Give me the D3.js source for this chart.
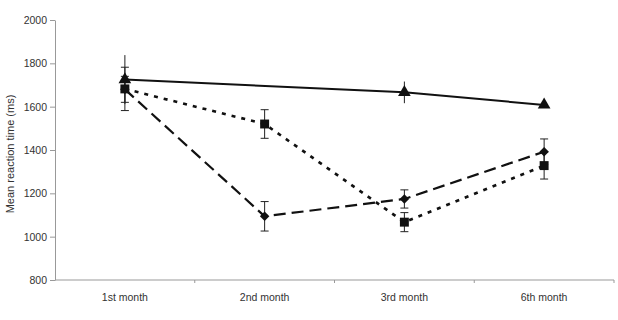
<!DOCTYPE html>
<html>
<head>
<meta charset="utf-8">
<script src="https://cdn.jsdelivr.net/npm/d3@7"></script>
<style>
  body { margin: 0; background: #fff; }
  svg text { font-family: "Liberation Sans", Arial, sans-serif; fill: #333; }
  .axis path, .axis line { stroke: #999; }
</style>
</head>
<body>
<svg id="chart" width="618" height="320"></svg>
<script>
// Months on the x axis
const months = ['1st month', '2nd month', '3rd month', '6th month'];
const yTicks = [800, 1000, 1200, 1400, 1600, 1800, 2000];

// Series values (mean reaction time, ms) and error half-widths; null = no point
const triangleMeans = [1725, null, 1666, 1608];
const triangleErrors = [113, null, 50, 6];
const squareMeans = [1682, 1520, 1067, 1328];
const squareErrors = [100, 66, 44, 62];
const diamondMeans = [1680, 1094, 1174, 1392];
const diamondErrors = [60, 68, 42, 59];

const series = [
  { name: 'diamond', means: diamondMeans, errors: diamondErrors, dash: '12,6', width: 2.2, caps: true },
  { name: 'square', means: squareMeans, errors: squareErrors, dash: '4,6', width: 2.6, caps: true },
  { name: 'triangle', means: triangleMeans, errors: triangleErrors, dash: null, width: 2, caps: false }
];

const svg = d3.select('#chart');
const margin = { top: 20, right: 4, bottom: 40, left: 55 };
const width = 618, height = 320;

const x = d3.scaleBand().domain(months).range([margin.left, width - margin.right]);
const y = d3.scaleLinear().domain([800, 2000]).range([height - margin.bottom, margin.top]);
const cx = d => x(d) + x.bandwidth() / 2;

// Y axis
svg.append('g')
  .attr('class', 'axis')
  .attr('transform', `translate(${margin.left},0)`)
  .call(d3.axisLeft(y).tickValues(yTicks).tickFormat(d3.format('d')).tickSize(5).tickPadding(3).tickSizeOuter(0))
  .call(g => g.selectAll('text').style('font-size', '10.5px').attr('fill', '#333'));

// X axis: line and category boundary ticks
const xAxis = svg.append('g').attr('class', 'axis');
xAxis.append('line')
  .attr('x1', margin.left).attr('x2', width - margin.right)
  .attr('y1', y(800)).attr('y2', y(800))
  .attr('stroke', '#999');
xAxis.selectAll('.xt')
  .data(months)
  .join('line')
  .attr('x1', d => x(d) + x.bandwidth()).attr('x2', d => x(d) + x.bandwidth())
  .attr('y1', y(800)).attr('y2', y(800) + 3)
  .attr('stroke', '#999');
xAxis.selectAll('.xl')
  .data(months)
  .join('text')
  .attr('x', cx)
  .attr('y', y(800) + 21)
  .attr('text-anchor', 'middle')
  .style('font-size', '10.5px')
  .text(d => d);

// Y axis title
svg.append('text')
  .attr('transform', `translate(14,${(y(800) + y(2000)) / 2 + 4}) rotate(-90)`)
  .attr('text-anchor', 'middle')
  .style('font-size', '11px')
  .text('Mean reaction time (ms)');

const pointsOf = s => months.map((m, i) => ({ m, v: s.means[i], e: s.errors[i] })).filter(p => p.v != null);

// Error bars
series.forEach(s => {
  const g = svg.append('g');
  pointsOf(s).forEach(p => {
    g.append('line')
      .attr('x1', cx(p.m)).attr('x2', cx(p.m))
      .attr('y1', y(p.v - p.e)).attr('y2', y(p.v + p.e))
      .attr('stroke', '#222').attr('stroke-width', 1);
    if (s.caps) {
      [p.v - p.e, p.v + p.e].forEach(v => {
        g.append('line')
          .attr('x1', cx(p.m) - 4).attr('x2', cx(p.m) + 4)
          .attr('y1', y(v)).attr('y2', y(v))
          .attr('stroke', '#222').attr('stroke-width', 1);
      });
    }
  });
});

// Lines
const line = d3.line().x(p => cx(p.m)).y(p => y(p.v));
series.forEach(s => {
  svg.append('path')
    .datum(pointsOf(s))
    .attr('d', line)
    .attr('fill', 'none')
    .attr('stroke', '#111')
    .attr('stroke-width', s.width)
    .attr('stroke-dasharray', s.dash);
});

// Markers (diamond = square turned 45 degrees)
const symbolFor = { diamond: d3.symbolSquare, square: d3.symbolSquare, triangle: d3.symbolTriangle };
const sizeFor = { diamond: 45, square: 80, triangle: 70 };
series.forEach(s => {
  svg.append('g').selectAll('path')
    .data(pointsOf(s))
    .join('path')
    .attr('transform', p => `translate(${cx(p.m)},${y(p.v)})` + (s.name === 'diamond' ? ' rotate(45)' : ''))
    .attr('d', d3.symbol().type(symbolFor[s.name]).size(sizeFor[s.name]))
    .attr('fill', '#111');
});
</script>
</body>
</html>
